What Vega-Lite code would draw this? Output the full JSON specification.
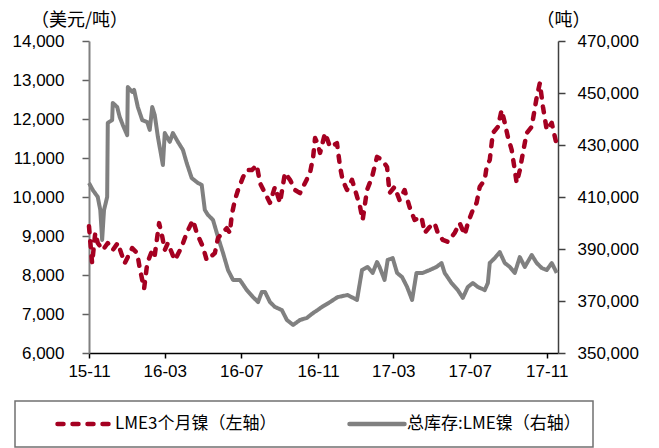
{
  "$schema": "https://vega.github.io/schema/vega-lite/v6.json",
  "width": 469,
  "height": 312,
  "autosize": {"type": "none"},
  "padding": {"left": 89, "top": 41, "right": 101, "bottom": 95},
  "background": "white",
  "config": {"view": {"stroke": null}},
  "datasets": {
    "price": [
      {"d": "2015-11-01", "v": 9250}, {"d": "2015-11-06", "v": 8300}, {"d": "2015-11-11", "v": 9080}, {"d": "2015-11-15", "v": 8820},
      {"d": "2015-11-23", "v": 8640}, {"d": "2015-12-01", "v": 8820}, {"d": "2015-12-09", "v": 8640}, {"d": "2015-12-17", "v": 8820},
      {"d": "2015-12-28", "v": 8300}, {"d": "2016-01-09", "v": 8690}, {"d": "2016-01-17", "v": 8560}, {"d": "2016-01-21", "v": 8180},
      {"d": "2016-01-28", "v": 7650}, {"d": "2016-02-02", "v": 8300}, {"d": "2016-02-10", "v": 8640}, {"d": "2016-02-14", "v": 8510},
      {"d": "2016-02-21", "v": 9330}, {"d": "2016-02-26", "v": 8980}, {"d": "2016-03-01", "v": 8640}, {"d": "2016-03-06", "v": 8820},
      {"d": "2016-03-17", "v": 8380}, {"d": "2016-03-28", "v": 8720}, {"d": "2016-04-05", "v": 9080}, {"d": "2016-04-15", "v": 9410},
      {"d": "2016-04-21", "v": 9080}, {"d": "2016-05-01", "v": 8720}, {"d": "2016-05-07", "v": 8380}, {"d": "2016-05-20", "v": 8560},
      {"d": "2016-05-25", "v": 8950}, {"d": "2016-06-08", "v": 9200}, {"d": "2016-06-13", "v": 9080}, {"d": "2016-06-16", "v": 9540},
      {"d": "2016-06-21", "v": 9920}, {"d": "2016-06-26", "v": 10180}, {"d": "2016-07-04", "v": 10510}, {"d": "2016-07-10", "v": 10690},
      {"d": "2016-07-18", "v": 10690}, {"d": "2016-07-26", "v": 10820}, {"d": "2016-07-31", "v": 10360}, {"d": "2016-08-08", "v": 10100},
      {"d": "2016-08-16", "v": 9850}, {"d": "2016-08-24", "v": 10260}, {"d": "2016-09-01", "v": 9850}, {"d": "2016-09-09", "v": 10620},
      {"d": "2016-09-17", "v": 10440}, {"d": "2016-09-25", "v": 10180}, {"d": "2016-10-03", "v": 10100}, {"d": "2016-10-11", "v": 10360},
      {"d": "2016-10-19", "v": 10620}, {"d": "2016-10-24", "v": 11030}, {"d": "2016-10-27", "v": 11510}, {"d": "2016-10-31", "v": 11380},
      {"d": "2016-11-04", "v": 11130}, {"d": "2016-11-12", "v": 11640}, {"d": "2016-11-20", "v": 11280}, {"d": "2016-12-01", "v": 11380},
      {"d": "2016-12-06", "v": 10770}, {"d": "2016-12-10", "v": 10440}, {"d": "2016-12-17", "v": 10180}, {"d": "2016-12-25", "v": 10440},
      {"d": "2016-12-30", "v": 10180}, {"d": "2017-01-07", "v": 9740}, {"d": "2017-01-11", "v": 9410}, {"d": "2017-01-18", "v": 10180},
      {"d": "2017-01-26", "v": 10510}, {"d": "2017-02-03", "v": 11030}, {"d": "2017-02-11", "v": 10950}, {"d": "2017-02-19", "v": 10770},
      {"d": "2017-02-23", "v": 10100}, {"d": "2017-03-03", "v": 10260}, {"d": "2017-03-11", "v": 9920}, {"d": "2017-03-19", "v": 10180},
      {"d": "2017-03-27", "v": 9740}, {"d": "2017-04-04", "v": 9410}, {"d": "2017-04-15", "v": 9490}, {"d": "2017-04-20", "v": 9080},
      {"d": "2017-04-28", "v": 9230}, {"d": "2017-05-06", "v": 9330}, {"d": "2017-05-11", "v": 9080}, {"d": "2017-05-19", "v": 8900},
      {"d": "2017-05-27", "v": 8850}, {"d": "2017-06-07", "v": 9080}, {"d": "2017-06-15", "v": 9330}, {"d": "2017-06-23", "v": 9030},
      {"d": "2017-06-28", "v": 9330}, {"d": "2017-07-06", "v": 9670}, {"d": "2017-07-12", "v": 9850}, {"d": "2017-07-17", "v": 10260},
      {"d": "2017-07-25", "v": 10440}, {"d": "2017-07-28", "v": 10770}, {"d": "2017-08-02", "v": 10950}, {"d": "2017-08-07", "v": 11640},
      {"d": "2017-08-15", "v": 11800}, {"d": "2017-08-21", "v": 12230}, {"d": "2017-08-26", "v": 11900}, {"d": "2017-08-31", "v": 11540},
      {"d": "2017-09-06", "v": 11210}, {"d": "2017-09-11", "v": 10690}, {"d": "2017-09-14", "v": 10360}, {"d": "2017-09-19", "v": 10690},
      {"d": "2017-09-24", "v": 11130}, {"d": "2017-09-30", "v": 11640}, {"d": "2017-10-08", "v": 11800}, {"d": "2017-10-16", "v": 12560},
      {"d": "2017-10-21", "v": 12920}, {"d": "2017-10-26", "v": 12310}, {"d": "2017-11-01", "v": 11720}, {"d": "2017-11-09", "v": 11900},
      {"d": "2017-11-17", "v": 11330}
    ],
    "stock": [
      {"d": "2015-11-01", "v": 415400}, {"d": "2015-11-07", "v": 412700}, {"d": "2015-11-15", "v": 410000}, {"d": "2015-11-19", "v": 405000},
      {"d": "2015-11-22", "v": 393500}, {"d": "2015-11-25", "v": 405000}, {"d": "2015-11-30", "v": 410000}, {"d": "2015-12-01", "v": 438500},
      {"d": "2015-12-08", "v": 439600}, {"d": "2015-12-09", "v": 446200}, {"d": "2015-12-16", "v": 444600}, {"d": "2015-12-20", "v": 440800},
      {"d": "2015-12-25", "v": 437700}, {"d": "2016-01-01", "v": 433800}, {"d": "2016-01-02", "v": 452300}, {"d": "2016-01-09", "v": 450400},
      {"d": "2016-01-12", "v": 451200}, {"d": "2016-01-18", "v": 444600}, {"d": "2016-01-25", "v": 439600}, {"d": "2016-02-02", "v": 438800},
      {"d": "2016-02-06", "v": 435800}, {"d": "2016-02-10", "v": 444600}, {"d": "2016-02-14", "v": 441500}, {"d": "2016-02-19", "v": 433100},
      {"d": "2016-02-27", "v": 422300}, {"d": "2016-03-01", "v": 434600}, {"d": "2016-03-09", "v": 431200}, {"d": "2016-03-14", "v": 434600},
      {"d": "2016-03-22", "v": 431200}, {"d": "2016-03-30", "v": 428100}, {"d": "2016-04-05", "v": 423100}, {"d": "2016-04-13", "v": 417300},
      {"d": "2016-04-23", "v": 415400}, {"d": "2016-04-29", "v": 414600}, {"d": "2016-05-04", "v": 405000}, {"d": "2016-05-09", "v": 403100},
      {"d": "2016-05-17", "v": 401200}, {"d": "2016-05-25", "v": 394600}, {"d": "2016-06-02", "v": 388500}, {"d": "2016-06-10", "v": 381900},
      {"d": "2016-06-18", "v": 378100}, {"d": "2016-06-29", "v": 378100}, {"d": "2016-07-10", "v": 374200}, {"d": "2016-07-20", "v": 371500},
      {"d": "2016-07-28", "v": 369600}, {"d": "2016-08-03", "v": 373500}, {"d": "2016-08-08", "v": 373500}, {"d": "2016-08-16", "v": 369600},
      {"d": "2016-08-24", "v": 367700}, {"d": "2016-09-04", "v": 366500}, {"d": "2016-09-12", "v": 362700}, {"d": "2016-09-22", "v": 360800},
      {"d": "2016-10-03", "v": 362700}, {"d": "2016-10-14", "v": 363500}, {"d": "2016-10-24", "v": 365400}, {"d": "2016-10-31", "v": 366500},
      {"d": "2016-11-07", "v": 367700}, {"d": "2016-11-20", "v": 369600}, {"d": "2016-12-02", "v": 371500}, {"d": "2016-12-18", "v": 372300},
      {"d": "2017-01-02", "v": 370400}, {"d": "2017-01-10", "v": 381900}, {"d": "2017-01-19", "v": 383100}, {"d": "2017-01-27", "v": 380800},
      {"d": "2017-02-03", "v": 385000}, {"d": "2017-02-07", "v": 383100}, {"d": "2017-02-15", "v": 378100}, {"d": "2017-02-20", "v": 385800},
      {"d": "2017-02-28", "v": 386500}, {"d": "2017-03-07", "v": 380800}, {"d": "2017-03-15", "v": 379200}, {"d": "2017-03-23", "v": 375400},
      {"d": "2017-03-31", "v": 370400}, {"d": "2017-04-07", "v": 380800}, {"d": "2017-04-17", "v": 380800}, {"d": "2017-04-28", "v": 381900},
      {"d": "2017-05-09", "v": 383100}, {"d": "2017-05-17", "v": 384600}, {"d": "2017-05-22", "v": 380800}, {"d": "2017-06-02", "v": 376900},
      {"d": "2017-06-12", "v": 374200}, {"d": "2017-06-20", "v": 371200}, {"d": "2017-06-28", "v": 375400}, {"d": "2017-07-06", "v": 376900},
      {"d": "2017-07-14", "v": 375400}, {"d": "2017-07-25", "v": 374200}, {"d": "2017-07-30", "v": 376900}, {"d": "2017-08-02", "v": 384600},
      {"d": "2017-08-10", "v": 386500}, {"d": "2017-08-18", "v": 388800}, {"d": "2017-08-26", "v": 384600}, {"d": "2017-09-03", "v": 383100},
      {"d": "2017-09-11", "v": 380800}, {"d": "2017-09-19", "v": 386900}, {"d": "2017-09-27", "v": 383100}, {"d": "2017-10-08", "v": 387700},
      {"d": "2017-10-16", "v": 384600}, {"d": "2017-10-24", "v": 382700}, {"d": "2017-11-01", "v": 381900}, {"d": "2017-11-09", "v": 384600},
      {"d": "2017-11-17", "v": 380800}
    ]
  },
  "encoding": {
    "x": {
      "field": "d",
      "type": "temporal",
      "scale": {
        "type": "utc",
        "domain": [
          {"year": 2015, "month": 11, "date": 1, "utc": true},
          {"year": 2017, "month": 11, "date": 19, "utc": true}
        ]
      },
      "axis": {
        "title": null,
        "format": "%y-%m",
        "values": [
          {"year": 2015, "month": 11, "date": 1, "utc": true},
          {"year": 2016, "month": 3, "date": 1, "utc": true},
          {"year": 2016, "month": 7, "date": 1, "utc": true},
          {"year": 2016, "month": 11, "date": 1, "utc": true},
          {"year": 2017, "month": 3, "date": 1, "utc": true},
          {"year": 2017, "month": 7, "date": 1, "utc": true},
          {"year": 2017, "month": 11, "date": 1, "utc": true}
        ],
        "grid": false,
        "domainColor": "#000000",
        "domainWidth": 1.5,
        "tickColor": "#000000",
        "tickWidth": 1.5,
        "tickSize": 5,
        "labelPadding": 5,
        "labelFont": "Liberation Sans",
        "labelFontSize": 17,
        "labelColor": "#000000",
        "labelFlush": false,
        "labelOverlap": false,
        "labelBound": false
      }
    }
  },
  "layer": [
    {
      "data": {"name": "stock"},
      "mark": {"type": "line", "strokeWidth": 4, "strokeJoin": "round"},
      "encoding": {
        "y": {
          "field": "v",
          "type": "quantitative",
          "scale": {"domain": [350000, 470000], "zero": false, "nice": false},
          "axis": {
            "orient": "right",
            "title": "（吨）",
            "titleAngle": 0,
            "titleX": 5,
            "titleY": -21,
            "titleAlign": "center",
            "titleBaseline": "middle",
            "titleFont": "Noto Sans CJK SC",
            "titleFontSize": 18,
            "titleFontWeight": "normal",
            "titleColor": "#000000",
            "values": [350000, 370000, 390000, 410000, 430000, 450000, 470000],
            "format": ",.0f",
            "grid": false,
            "domainColor": "#404040",
            "domainWidth": 1.5,
            "tickColor": "#404040",
            "tickWidth": 1.5,
            "tickSize": 7,
            "labelPadding": 12,
            "labelFont": "Liberation Sans",
            "labelFontSize": 17,
            "labelColor": "#000000",
            "labelFlush": false,
            "labelOverlap": false,
            "labelBound": false
          }
        },
        "color": {"datum": "总库存:LME镍（右轴）"},
        "strokeDash": {"datum": "总库存:LME镍（右轴）"}
      }
    },
    {
      "data": {"name": "price"},
      "mark": {"type": "line", "strokeWidth": 4.5, "strokeCap": "round", "strokeJoin": "round"},
      "encoding": {
        "y": {
          "field": "v",
          "type": "quantitative",
          "scale": {"domain": [6000, 14000], "zero": false, "nice": false},
          "axis": {
            "orient": "left",
            "title": "（美元/吨）",
            "titleAngle": 0,
            "titleX": -10,
            "titleY": -21,
            "titleAlign": "center",
            "titleBaseline": "middle",
            "titleFont": "Noto Sans CJK SC",
            "titleFontSize": 18,
            "titleFontWeight": "normal",
            "titleColor": "#000000",
            "values": [6000, 7000, 8000, 9000, 10000, 11000, 12000, 13000, 14000],
            "format": ",.0f",
            "grid": false,
            "domainColor": "#808080",
            "domainWidth": 2,
            "tickColor": "#606060",
            "tickWidth": 1.5,
            "tickSize": 7,
            "labelPadding": 18,
            "labelFont": "Liberation Sans",
            "labelFontSize": 17,
            "labelColor": "#000000",
            "labelFlush": false,
            "labelOverlap": false,
            "labelBound": false
          }
        },
        "color": {
          "datum": "LME3个月镍（左轴）",
          "scale": {
            "domain": ["LME3个月镍（左轴）", "总库存:LME镍（右轴）"],
            "range": ["#A50021", "#808080"]
          },
          "legend": {
            "title": null,
            "orient": "none",
            "legendX": -74,
            "legendY": 360,
            "direction": "horizontal",
            "padding": 12,
            "strokeColor": "#707070",
            "symbolType": "stroke",
            "symbolSize": 3025,
            "symbolStrokeWidth": 4.5,
            "symbolOffset": 28,
            "labelOffset": 0,
            "columnPadding": 42,
            "clipHeight": 22,
            "labelFont": "Noto Sans CJK SC",
            "labelFontSize": 17,
            "labelColor": "#000000",
            "labelLimit": 400,
            "labelExpr": "datum.value == '总库存:LME镍（右轴）' ? datum.label + '\u3000\u3000\u2002' : datum.label",
            "encode": {
              "legend": {"update": {"strokeWidth": {"value": 1.5}}},
              "symbols": {"update": {"strokeCap": {"value": "round"}}}
            }
          }
        },
        "strokeDash": {
          "datum": "LME3个月镍（左轴）",
          "scale": {
            "domain": ["LME3个月镍（左轴）", "总库存:LME镍（右轴）"],
            "range": [[6, 9], [1, 0]]
          },
          "legend": null
        }
      }
    }
  ],
  "resolve": {"scale": {"y": "independent"}}
}
